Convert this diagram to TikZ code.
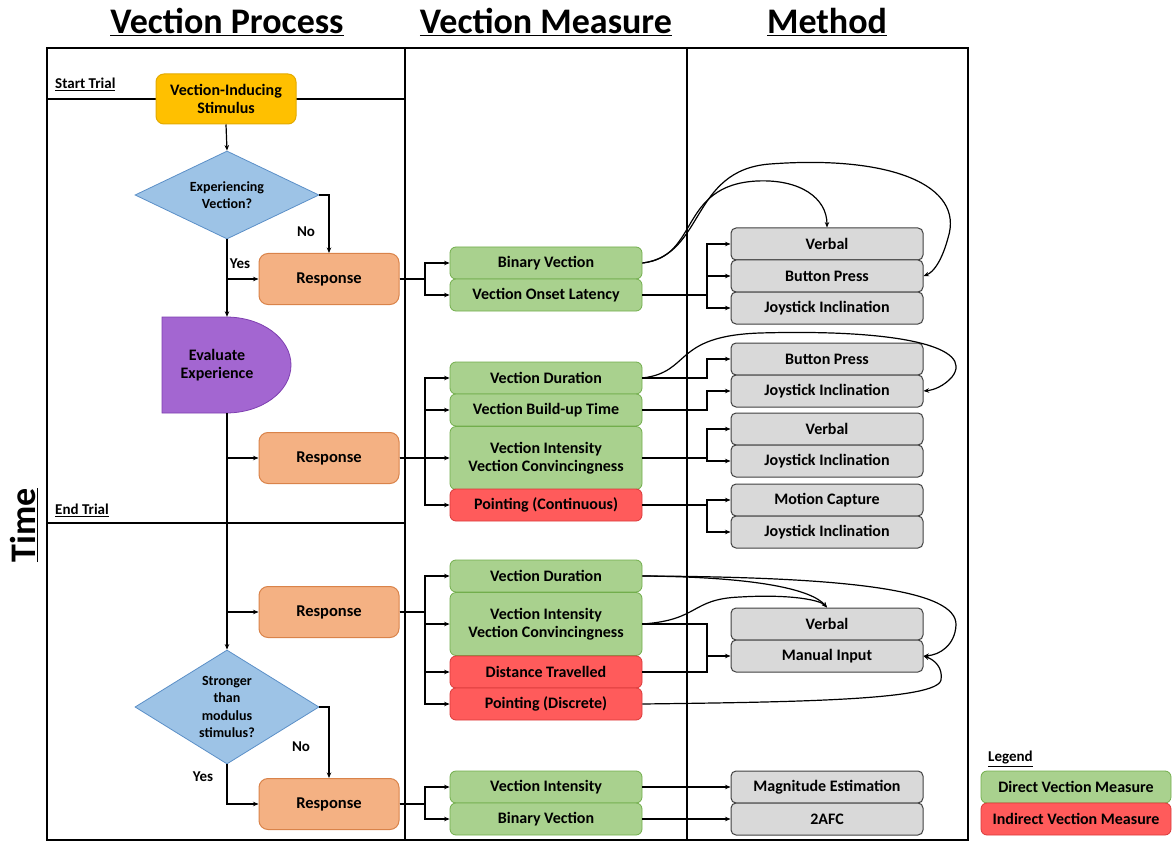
\documentclass[tikz,border=0pt]{standalone}
\usepackage{fontspec}
\setmainfont{Carlito}
\usetikzlibrary{shapes.geometric,arrows.meta,calc}
\definecolor{cyel}{HTML}{FFC000}
\definecolor{cyelb}{HTML}{E3AA00}
\definecolor{cblue}{HTML}{9DC3E6}
\definecolor{cblueb}{HTML}{5B8FC7}
\definecolor{corg}{HTML}{F4B183}
\definecolor{corgb}{HTML}{D9834A}
\definecolor{cpur}{HTML}{A366D1}
\definecolor{cpurb}{HTML}{7E3FB0}
\definecolor{cgrn}{HTML}{A9D18E}
\definecolor{cgrnb}{HTML}{72AE4C}
\definecolor{cred}{HTML}{FF5B5B}
\definecolor{credb}{HTML}{D93A3A}
\definecolor{cgry}{HTML}{D9D9D9}
\definecolor{cgryb}{HTML}{404040}
\begin{document}
\begin{tikzpicture}[x=1pt,y=-1pt,
  ln/.style={line width=1.2pt},
  arr/.style={line width=1.2pt,-{Stealth[length=5.5pt,width=4.5pt]}},
  boxbase/.style={align=center,inner sep=0pt,font=\bfseries\fontsize{16}{18.5}\selectfont},
  meas/.style={boxbase,rounded corners=6pt,draw=cgrnb,fill=cgrn,line width=0.8pt,minimum width=192pt,minimum height=32pt},
  measred/.style={meas,draw=credb,fill=cred},
  meth/.style={boxbase,rounded corners=5pt,draw=cgryb,fill=cgry,line width=1pt,minimum width=192pt,minimum height=32pt},
  resp/.style={boxbase,rounded corners=9pt,draw=corgb,fill=corg,line width=1pt,minimum width=140pt,minimum height=51pt,font=\bfseries\fontsize{16.5}{19}\selectfont},
  dec/.style={diamond,aspect=2.1,draw=cblueb,fill=cblue,line width=0.8pt,align=center,inner sep=0pt,minimum width=184pt,font=\bfseries\fontsize{14}{17.3}\selectfont},
  lab/.style={font=\bfseries\fontsize{15}{18}\selectfont,inner sep=0pt},
  ttl/.style={font=\bfseries\fontsize{36}{42}\selectfont,inner sep=0pt}
]
\useasboundingbox (0,0) rectangle (1172,842);
% frame
\draw[ln] (47,48) rectangle (968,840);
\draw[ln] (405,48) -- (405,840);
\draw[ln] (687,48) -- (687,840);
\draw[ln] (47,99) -- (405,99);
\draw[ln] (47,523) -- (405,523);
% titles
\node[ttl] (t1) at (227,22) {\underline{Vection Process}};
\node[ttl] (t2) at (546,22) {\underline{Vection Measure}};
\node[ttl] (t3) at (827,22) {\underline{Method}};
\node[ttl,rotate=90,font=\bfseries\fontsize{36}{40}\selectfont] (time) at (24,525) {\underline{Time}};
\node[lab,anchor=west] (st) at (55,84) {\underline{Start Trial}};
\node[lab,anchor=west] (et) at (55,510) {\underline{End Trial}};
% process column
\node[boxbase,rounded corners=8pt,draw=cyelb,fill=cyel,line width=1pt,minimum width=140pt,minimum height=50pt] (stim) at (226,99) {Vection-Inducing\\Stimulus};
\node[dec,minimum height=88pt] (d1) at (227,195) {Experiencing\\Vection?};
\node[resp] (r1) at (329,279) {Response};
\fill[cpur,draw=cpurb,line width=0.8pt] (226,317) .. controls (262,317) and (291,338.5) .. (291,365) .. controls (291,391.5) and (262,413) .. (226,413) -- (162,413) -- (162,317) -- cycle;
\node[boxbase,minimum width=110pt,minimum height=96pt] (eval) at (217,365) {Evaluate\\Experience};
\node[resp] (r2) at (329,458) {Response};
\node[resp] (r3) at (329,612) {Response};
\node[dec,minimum height=114pt] (d2) at (227,707) {Stronger\\than\\modulus\\stimulus?};
\node[resp] (r4) at (329,804) {Response};
% process connectors
\draw[arr] (stim.south) -- (d1.north);
\draw[arr] (d1.south) -- (d1.south |- eval.north);
\draw[arr] (d1.south |- r1.west) -- (r1.west);
\draw[arr] (d1.east) -| (r1.north);
\draw[arr] (d1.south |- eval.south) -- (d2.north);
\draw[arr] (d1.south |- r2.west) -- (r2.west);
\draw[arr] (d1.south |- r3.west) -- (r3.west);
\draw[arr] (d2.east) -| (r4.north);
\draw[arr] (d2.south) |- (r4.west);
\node[lab] (yes1) at (240,264) {Yes};
\node[lab] (no1) at (306,232) {No};
\node[lab] (no2) at (301,747) {No};
\node[lab] (yes2) at (203,777) {Yes};
% measure column
\node[meas] (bv1) at (546,263) {Binary Vection};
\node[meas] (onset) at (546,295) {Vection Onset Latency};
\node[meas] (dur1) at (546,378) {Vection Duration};
\node[meas] (build) at (546,410) {Vection Build-up Time};
\node[meas,minimum height=63pt] (int1) at (546,458) {Vection Intensity\\Vection Convincingness};
\node[measred] (pc) at (546,505) {Pointing (Continuous)};
\node[meas] (dur2) at (546,576) {Vection Duration};
\node[meas,minimum height=63pt] (int2) at (546,624) {Vection Intensity\\Vection Convincingness};
\node[measred] (dist) at (546,672) {Distance Travelled};
\node[measred] (pd) at (546,704) {Pointing (Discrete)};
\node[meas] (vi) at (546,787) {Vection Intensity};
\node[meas] (bv2) at (546,819) {Binary Vection};
% method column
\node[meth] (verb1) at (827,244) {Verbal};
\node[meth] (bp1) at (827,276) {Button Press};
\node[meth] (js1) at (827,308) {Joystick Inclination};
\node[meth] (bp2) at (827,359) {Button Press};
\node[meth] (js2) at (827,391) {Joystick Inclination};
\node[meth] (verb2) at (827,429) {Verbal};
\node[meth] (js3) at (827,461) {Joystick Inclination};
\node[meth] (mc) at (827,500) {Motion Capture};
\node[meth] (js4) at (827,532) {Joystick Inclination};
\node[meth] (verb3) at (827,624) {Verbal};
\node[meth] (mi) at (827,656) {Manual Input};
\node[meth] (me) at (827,787) {Magnitude Estimation};
\node[meth] (afc) at (827,819) {2AFC};
% legend
\node[lab,anchor=west] (leg) at (988,759) {\underline{Legend}};
\node[meas,minimum width=190pt] (lg1) at (1076,787) {Direct Vection Measure};
\node[measred,minimum width=190pt] (lg2) at (1076,819) {Indirect Vection Measure};
% junction x positions
\coordinate (jr) at (425,0);
\coordinate (jm) at (707,0);
% response -> measure
\draw[arr] (r1.east) -| (jr |- bv1.west) -- (bv1.west);
\draw[arr] (r1.east) -| (jr |- onset.west) -- (onset.west);
\draw[arr] (r2.east) -| (jr |- dur1.west) -- (dur1.west);
\draw[arr] (jr |- build.west) -- (build.west);
\draw[arr] (r2.east) -- (int1.west);
\draw[arr] (r2.east) -| (jr |- pc.west) -- (pc.west);
\draw[arr] (r3.east) -| (jr |- dur2.west) -- (dur2.west);
\draw[arr] (jr |- int2.west) -- (int2.west);
\draw[arr] (jr |- dist.west) -- (dist.west);
\draw[arr] (r3.east) -| (jr |- pd.west) -- (pd.west);
\draw[arr] (r4.east) -| (jr |- vi.west) -- (vi.west);
\draw[arr] (r4.east) -| (jr |- bv2.west) -- (bv2.west);
% measure -> method (orthogonal)
\draw[arr] (onset.east) -| (jm |- verb1.west) -- (verb1.west);
\draw[arr] (onset.east) -| (jm |- bp1.west) -- (bp1.west);
\draw[arr] (onset.east) -| (jm |- js1.west) -- (js1.west);
\draw[arr] (dur1.east) -| (jm |- bp2.west) -- (bp2.west);
\draw[arr] (build.east) -| (jm |- js2.west) -- (js2.west);
\draw[arr] (int1.east) -| (jm |- verb2.west) -- (verb2.west);
\draw[arr] (int1.east) -| (jm |- js3.west) -- (js3.west);
\draw[arr] (pc.east) -| (jm |- mc.west) -- (mc.west);
\draw[arr] (pc.east) -| (jm |- js4.west) -- (js4.west);
\draw[arr] (int2.east) -| (jm |- mi.west) -- (mi.west);
\draw[ln] (dist.east) -| (jm |- mi.west);
\draw[arr] (vi.east) -- (me.west);
\draw[arr] (bv2.east) -- (afc.west);
% measure -> method (curves)
\draw[arr] (bv1.east) .. controls (700,257) and (678,185) .. (757,181) .. controls (800,179) and (827,198) .. (verb1.north);
\draw[arr] (bv1.east) .. controls (705,255) and (690,170) .. (770,164) .. controls (890,155) and (965,185) .. (948,238) .. controls (942,260) and (934,272) .. (bp1.east);
\draw[arr] (dur1.east) .. controls (692,372) and (672,336) .. (760,333) .. controls (900,329) and (975,347) .. (952,377) .. controls (944,386) and (934,390) .. (js2.east);
\draw[arr] (dur2.east) .. controls (760,577) and (812,590) .. (verb3.north);
\draw[arr] (dur2.east) .. controls (850,577) and (957,590) .. (956,625) .. controls (955,645) and (940,655) .. (mi.east);
\draw[arr] (int2.east) .. controls (700,620) and (690,599) .. (740,597) .. controls (790,594) and (820,600) .. (verb3.north);
\draw[arr] (pd.east) .. controls (800,702) and (937,700) .. (941,680) .. controls (943,668) and (935,660) .. (mi.east);
\end{tikzpicture}
\end{document}
